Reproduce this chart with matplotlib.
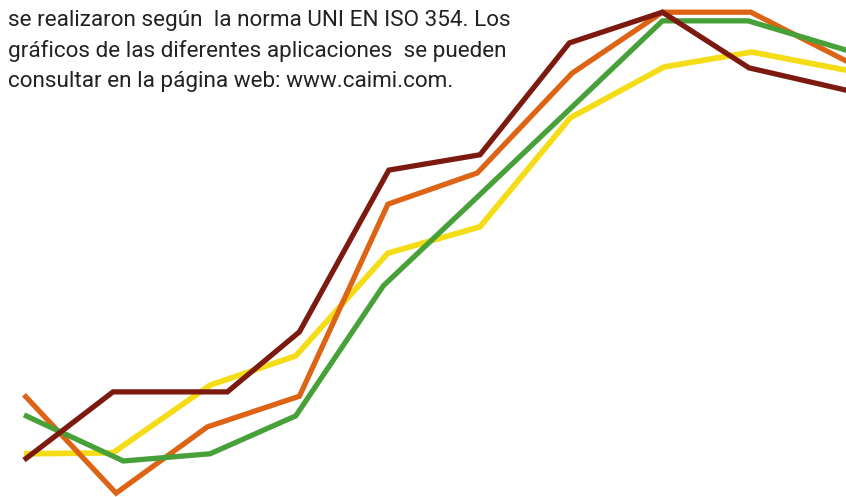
import matplotlib
matplotlib.use("Agg")
import matplotlib.pyplot as plt

# sound absorption coefficient per frequency band, four products
bands_yellow = [0, 0.976, 2.04, 2.98, 3.99, 5.0, 5.99, 7.02, 7.98, 9.05]
alpha_yellow = [0.090, 0.092, 0.233, 0.294, 0.508, 0.563, 0.790, 0.896, 0.927, 0.888]

bands_orange = [0, 1.01, 2.01, 3.02, 3.99, 4.97, 6.01, 7.0, 7.97, 9.05]
alpha_orange = [0.213, 0.008, 0.146, 0.210, 0.610, 0.675, 0.883, 1.010, 1.010, 0.905]

bands_green = [0, 1.09, 2.04, 2.98, 3.94, 4.96, 5.94, 7.0, 7.94, 9.05]
alpha_green = [0.171, 0.075, 0.090, 0.169, 0.440, 0.623, 0.800, 0.992, 0.992, 0.929]

bands_red = [0, 0.976, 2.23, 3.02, 4.0, 5.0, 5.98, 7.0, 7.95, 9.05]
alpha_red = [0.077, 0.219, 0.219, 0.344, 0.681, 0.713, 0.946, 1.010, 0.894, 0.846]

note_lines = [
    "se realizaron según  la norma UNI EN ISO 354. Los",
    "gráficos de las diferentes aplicaciones  se pueden",
    "consultar en la página web: www.caimi.com.",
]

W, H = 846, 497
fig = plt.figure(figsize=(W / 100, H / 100), dpi=100)
ax = fig.add_axes([0, 0, 1, 1])
ax.set_xlim(-24 / 91.2, (W - 24) / 91.2)
ax.set_ylim(0, H / 480)
ax.axis("off")

lw = 3.8
ax.plot(bands_yellow, alpha_yellow, color="#f4dc16", lw=lw + 0.3, solid_joinstyle="miter", solid_capstyle="butt")
ax.plot(bands_orange, alpha_orange, color="#dc6414", lw=lw, solid_joinstyle="miter", solid_capstyle="butt")
ax.plot(bands_green, alpha_green, color="#47a038", lw=lw, solid_joinstyle="miter", solid_capstyle="butt")
ax.plot(bands_red, alpha_red, color="#7d1a10", lw=lw, solid_joinstyle="miter", solid_capstyle="butt")

for i, line in enumerate(note_lines):
    fig.text(8 / W, 1 - (26 + 30.5 * i) / H, line, fontsize=16.2, color="#222222",
             family="Roboto", va="baseline", ha="left")

fig.savefig("out.png", dpi=100)
